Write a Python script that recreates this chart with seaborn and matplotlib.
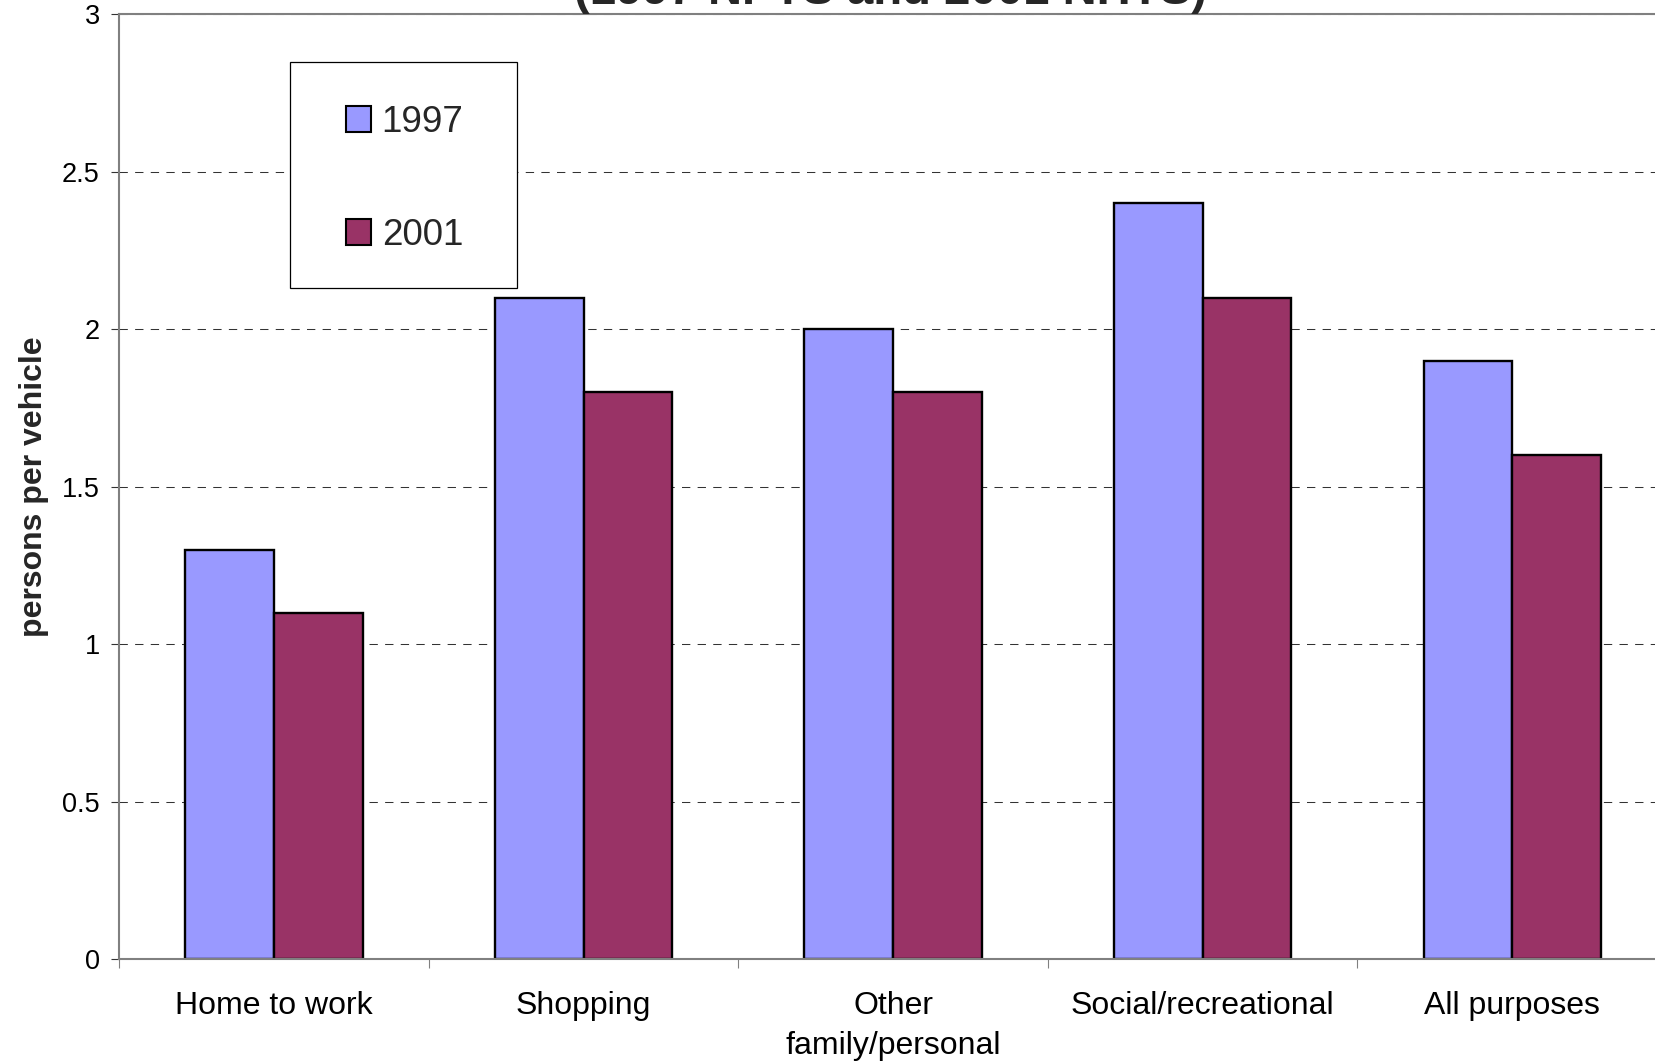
import matplotlib
matplotlib.use("Agg")
import matplotlib.pyplot as plt
import seaborn as sns
import pandas as pd
from matplotlib.ticker import FixedLocator, FuncFormatter
from matplotlib.patches import Rectangle

purposes = ["Home to work", "Shopping", "Other\nfamily/personal",
            "Social/recreational", "All purposes"]
occ_1997 = [1.3, 2.1, 2.0, 2.4, 1.9]
occ_2001 = [1.1, 1.8, 1.8, 2.1, 1.6]
years = ["1997", "2001"]
colors = ["#9999FF", "#993366"]
y_ticks = [0, 0.5, 1, 1.5, 2, 2.5, 3]

df = pd.DataFrame({
    "purpose": purposes * 2,
    "value": occ_1997 + occ_2001,
    "year": [years[0]] * len(purposes) + [years[1]] * len(purposes),
})

sns.set_theme(style="white")
plt.rcParams["font.family"] = ["Liberation Sans", "DejaVu Sans"]

W, H = 1655, 1064
fig = plt.figure(figsize=(W / 100, H / 100), dpi=100)
ax = fig.add_axes([119.3 / W, 1 - 959.3 / H, (1667 - 119.3) / W, (959.3 - 14.3) / H])

sns.barplot(data=df, x="purpose", y="value", hue="year", order=purposes,
            hue_order=years, palette=colors, width=0.573, edgecolor="black",
            linewidth=1.7, saturation=1, ax=ax, legend=True)

ax.set_xlim(-0.5, len(purposes) - 0.5)
ax.set_ylim(0, 3)
ax.set_xlabel("")
ax.set_ylabel("")

# spines
for s in ["left", "bottom", "top"]:
    ax.spines[s].set_visible(True)
    ax.spines[s].set_color("#808080")
    ax.spines[s].set_linewidth(1.5)
ax.spines["right"].set_visible(False)

# y axis
ax.yaxis.set_major_locator(FixedLocator(y_ticks))
ax.yaxis.set_major_formatter(FuncFormatter(lambda v, p: f"{v:g}"))
ax.tick_params(axis="y", which="major", left=True, length=5.8, width=0.8,
               color="#333333", pad=8.2, labelsize=19.5, labelcolor="black")
ax.yaxis.grid(True, linestyle=(0, (8, 7)), color="#333333", linewidth=0.75)
ax.xaxis.grid(False)
ax.set_axisbelow(True)

# x axis: labels at centers, tick marks at boundaries
ax.set_xticks(range(len(purposes)))
ax.set_xticklabels(purposes, fontsize=23, linespacing=1.42)
ax.set_xticks([i - 0.5 for i in range(len(purposes) + 1)], minor=True)
ax.tick_params(axis="x", which="major", bottom=True, length=0, pad=23,
               labelcolor="black")
ax.tick_params(axis="x", which="minor", bottom=True, length=6.5, width=0.8,
               color="#808080")

# y label
fig.text(34 / W, 1 - 487 / H, "persons per vehicle", rotation=90,
         ha="center", va="center", fontsize=23, fontweight="bold")

# title (cut off at top in the original)
fig.text(890.5 / W, 1 - 3.5 / H, "(1997 NPTS and 2001 NHTS)", ha="center",
         va="baseline", fontsize=34, fontweight="bold")

# legend
handles, labels = ax.get_legend_handles_labels()
if ax.get_legend() is not None:
    ax.get_legend().remove()
for h in handles:
    h.set_edgecolor("black")
    h.set_linewidth(1.5)
leg = fig.legend(handles, labels, loc="center",
                 bbox_to_anchor=(405 / W, 1 - 179 / H),
                 frameon=False, fontsize=26.5, handlelength=0.68,
                 handleheight=0.68, handletextpad=0.28, labelspacing=2.12,
                 borderpad=0)
fig.patches.append(Rectangle((290 / W, 1 - 288 / H), (516.7 - 290) / W,
                             (288 - 61.7) / H, transform=fig.transFigure,
                             facecolor="white", edgecolor="black",
                             linewidth=0.9, zorder=3))
leg.set_zorder(5)

fig.savefig("out.png", dpi=100)
